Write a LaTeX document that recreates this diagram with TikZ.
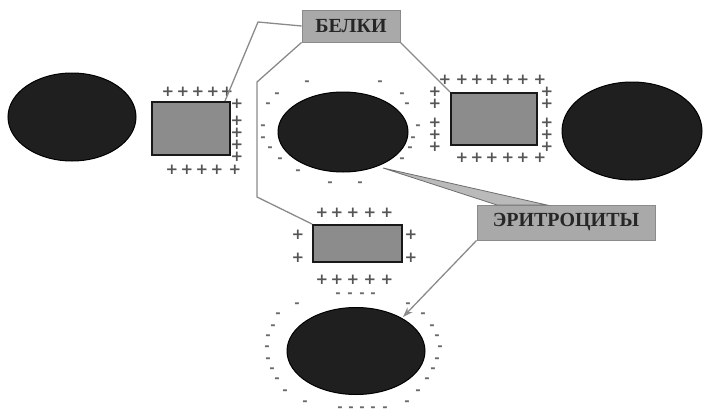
\documentclass[tikz,border=0pt]{standalone}
\usepackage{fontspec}
\setmainfont{Liberation Serif}
\newfontfamily\chgfont{DejaVu Sans}
\usetikzlibrary{shapes.geometric,arrows.meta}
\definecolor{cellc}{HTML}{1F1F1F}
\definecolor{protc}{HTML}{8C8C8C}
\definecolor{labc}{HTML}{A9A9A9}
\definecolor{linec}{HTML}{8A8A8A}
\definecolor{chgc}{HTML}{555555}
\definecolor{minc}{HTML}{6A6A6A}
\tikzset{
  cell/.style={ellipse,draw=black,line width=1pt,fill=cellc,inner sep=0pt},
  prot/.style={rectangle,draw=black!90,line width=2pt,fill=protc,inner sep=0pt},
  lab/.style={rectangle,draw=linec,line width=0.8pt,fill=labc,inner sep=0pt,
    font=\fontsize{20}{20}\selectfont\bfseries,text=black!85},
  conn/.style={draw=linec,line width=1.3pt},
  plus/.style={inner sep=0pt,text=chgc,font=\chgfont\fontsize{15}{15}\selectfont\bfseries},
  minus/.style={inner sep=0pt,text=minc,font=\chgfont\fontsize{13}{13}\selectfont\bfseries},
}
\begin{document}
\begin{tikzpicture}[x=1pt,y=-1pt]
\useasboundingbox (0,0) rectangle (704,415);
% cells
\node[cell,minimum width=128,minimum height=88] (c1) at (72,117) {};
\node[cell,minimum width=130,minimum height=80] (c2) at (343,132) {};
\node[cell,minimum width=140,minimum height=98] (c3) at (632,131) {};
\node[cell,minimum width=138,minimum height=87] (c4) at (356,351) {};
% proteins
\node[prot,minimum width=78,minimum height=53] (b1) at (191,128.5) {};
\node[prot,minimum width=86,minimum height=52] (b2) at (494,119) {};
\node[prot,minimum width=89,minimum height=37] (b3) at (357.5,243.5) {};
% charges
\foreach \x/\y [count=\i] in {168/92,183/92,198/92,213/92,227/92,
  172/170,187/170,202/170,217/170,235/170,
  237/104,237/121,237/133,237/145,237/157,
  445/80,462/80,477/80,492/80,508/80,523/80,540/80,
  462/158,477/158,492/158,508/158,523/158,540/158,
  435/92,435/104,435/123,435/135,435/147,
  547/92,547/104,547/123,547/135,547/147,
  322/213,337/213,353/213,370/213,387/213,
  322/280,337/280,353/280,370/280,387/280,
  298/235,298/258,411/235,411/258}
  \node[plus] (p\i) at (\x,\y) {+};
\foreach \x/\y [count=\i] in {307/83,380/83,277/95,402/95,268/105,407/105,
  263/127,263/139,418/127,413/139,270/149,410/149,280/160,402/160,298/172,330/184,360/184,
  338/295,350/295,362/295,373/295,
  297/305,278/315,273/327,268/337,267/348,268/360,272/370,277/380,285/392,305/403,
  408/305,423/315,432/327,437/337,440/348,437/360,433/370,427/380,418/392,407/403,
  340/409,351/409,362/409,373/409,385/409}
  \node[minus] (m\i) at (\x,\y) {-};
% labels
\node[lab,minimum width=98,minimum height=32] (belki) at (351,26) {БЕЛКИ};
\node[lab,minimum width=178,minimum height=35] (eri) at (566,222.5) {ЭРИТРОЦИТЫ};
% connectors from БЕЛКИ
\coordinate (k1) at (258,22);
\coordinate (k2) at (257,82);
\coordinate (k3) at (257,197);
\draw[conn] (belki.west) -- (k1) -- ([xshift=-6pt]b1.north east);
\draw[conn] (belki.south west) -- (k2) -- (k3) -- (b3.north west);
\draw[conn] (belki.south east) -- (b2.north west);
% connectors from ЭРИТРОЦИТЫ
\coordinate (tip) at (383,168);
\coordinate (w1) at (497,205);
\coordinate (w2) at (547,205);
\filldraw[draw=linec!80!black,fill=labc!80,line width=0.8pt] (tip) -- (w1) -- (w2) -- cycle;
\coordinate (atip) at (403,317);
\draw[conn,-{Stealth[length=10pt,width=7pt,open]}] (eri.south west) -- (atip);
\end{tikzpicture}
\end{document}
